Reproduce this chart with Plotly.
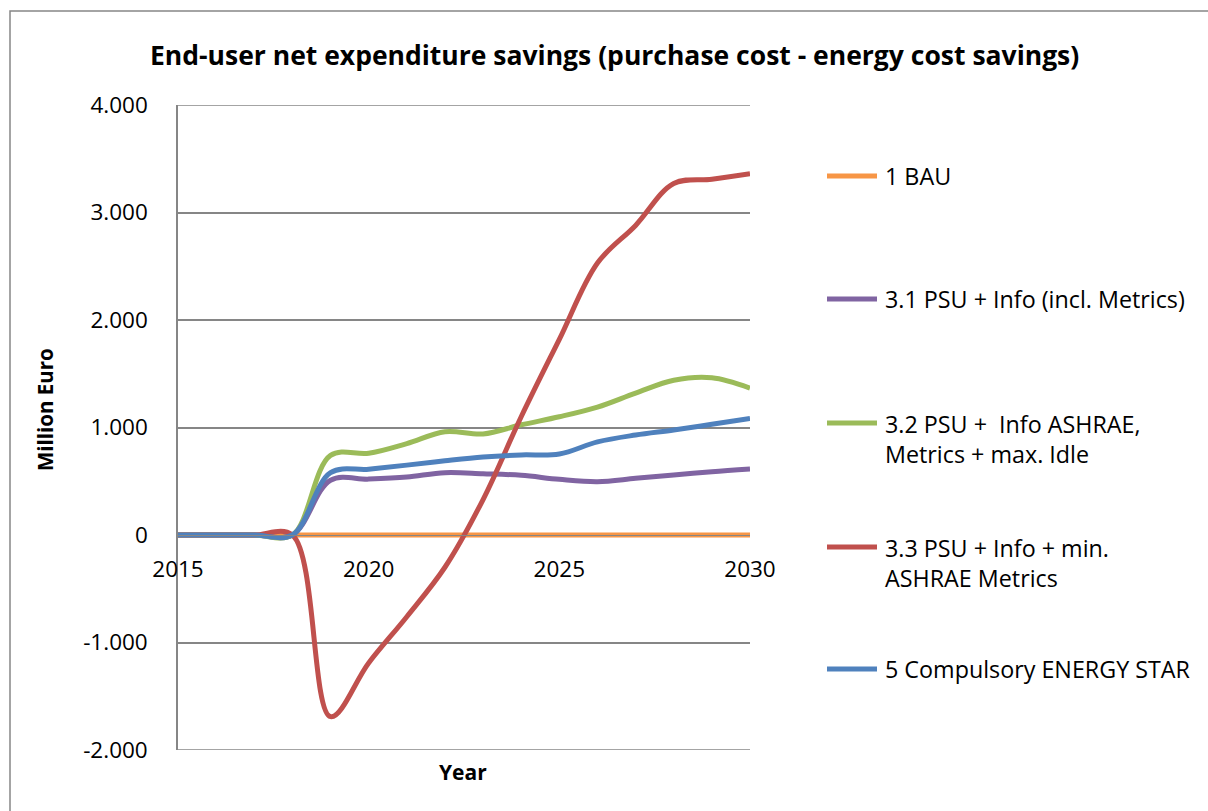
import plotly.graph_objects as go

# Yearly series (million euro)
years = [2015, 2016, 2017, 2018, 2019, 2020, 2021, 2022, 2023, 2024, 2025, 2026, 2027, 2028, 2029, 2030]
bau = [0, 0, 0, 0, 0, 0, 0, 0, 0, 0, 0, 0, 0, 0, 0, 0]
psu_info = [0, 0, 0, 0, 510, 520, 540, 580, 570, 555, 518, 496, 527, 558, 589, 614]
psu_ashrae_idle = [0, 0, 0, 0, 740, 760, 850, 960, 940, 1025, 1100, 1190, 1320, 1440, 1463, 1367]
psu_min_ashrae = [0, 0, 0, 0, -1690, -1190, -760, -300, 330, 1100, 1820, 2530, 2880, 3270, 3310, 3360]
energy_star = [0, 0, 0, 0, 580, 612, 650, 690, 725, 745, 753, 866, 930, 977, 1030, 1085]

series_names = [
    "1 BAU",
    "3.1 PSU + Info (incl. Metrics)",
    "3.2 PSU +  Info ASHRAE,<br>Metrics + max. Idle",
    "3.3 PSU + Info + min.<br>ASHRAE Metrics",
    "5 Compulsory ENERGY STAR",
]
series_values = [bau, psu_info, psu_ashrae_idle, psu_min_ashrae, energy_star]
series_colors = ["#F79646", "#8064A2", "#9BBB59", "#C0504D", "#4F81BD"]

y_ticks = [-2000, -1000, 0, 1000, 2000, 3000, 4000]
y_tick_text = ["-2.000", "-1.000", "0", "1.000", "2.000", "3.000", "4.000"]
x_ticks = [2015, 2020, 2025, 2030]
x_tick_text = ["2015", "2020", "2025", "2030"]

FONT = "Open Sans"
W, H = 1208, 811
ML, MR, MT, MB = 178, 458, 105, 61
PW, PH = W - ML - MR, H - MT - MB


def px(x):
    return (x - ML) / PW


def py(y):
    return (H - MB - y) / PH


fig = go.Figure()
for name, vals, col in zip(series_names, series_values, series_colors):
    fig.add_trace(go.Scatter(
        x=years, y=vals, mode="lines", name=name,
        line=dict(color=col, width=5, shape="spline", smoothing=1),
        showlegend=False,
    ))

grid = "#868686"
shapes = [
    # chart frame
    dict(type="rect", xref="paper", yref="paper",
         x0=px(10), x1=px(1230), y0=py(11), y1=py(830),
         line=dict(color=grid, width=1.5), layer="below"),
    # top and bottom gridlines at the range limits
    dict(type="line", xref="paper", yref="y", x0=0, x1=1,
         y0=y_ticks[0], y1=y_ticks[0], line=dict(color=grid, width=1.5), layer="below"),
    dict(type="line", xref="paper", yref="y", x0=0, x1=1,
         y0=y_ticks[-1], y1=y_ticks[-1], line=dict(color=grid, width=1.5), layer="below"),
]
annotations = []

# legend: sample line + label, evenly spaced rows
legend_rows = [176, 299, 423, 547, 669]
line_gap = 32
for name, col, yrow in zip(series_names, series_colors, legend_rows):
    shapes.append(dict(type="line", xref="paper", yref="paper",
                       x0=px(827), x1=px(877), y0=py(yrow), y1=py(yrow),
                       line=dict(color=col, width=5)))
    nlines = name.count("<br>") + 1
    annotations.append(dict(
        text=name, xref="paper", yref="paper",
        x=px(883), y=py(yrow + (nlines - 1) * line_gap / 2),
        xanchor="left", yanchor="middle", align="left", showarrow=False,
        font=dict(family=FONT, size=23.3, color="#000000"),
    ))

annotations += [
    dict(text="<b>End-user net expenditure savings (purchase cost - energy cost savings)</b>",
         xref="paper", yref="paper", x=px(614), y=py(55),
         xanchor="center", yanchor="middle", showarrow=False,
         font=dict(family=FONT, size=26.5, color="#000000")),
    dict(text="<b>Million Euro</b>", xref="paper", yref="paper",
         x=px(45), y=py(410), xanchor="center", yanchor="middle",
         textangle=-90, showarrow=False,
         font=dict(family=FONT, size=20.5, color="#000000")),
    dict(text="<b>Year</b>", xref="paper", yref="paper",
         x=px(463), y=py(772), xanchor="center", yanchor="middle",
         showarrow=False,
         font=dict(family=FONT, size=21, color="#000000")),
]

fig.update_layout(
    width=W, height=H, autosize=False,
    margin=dict(l=ML, r=MR, t=MT, b=MB),
    paper_bgcolor="white", plot_bgcolor="white",
    shapes=shapes, annotations=annotations,
    showlegend=False,
    xaxis=dict(
        range=[2015, 2030], anchor="free", position=2000 / 6000,
        tickvals=x_ticks, ticktext=x_tick_text, ticks="",
        ticklabelstandoff=14,
        showgrid=False, zeroline=False,
        showline=True, linecolor=grid, linewidth=1,
        tickfont=dict(family=FONT, size=22.5, color="#000000"),
    ),
    yaxis=dict(
        range=[-2000, 4000], tickvals=y_ticks, ticktext=y_tick_text,
        ticks="", ticklabelstandoff=24,
        showgrid=True, gridcolor=grid, gridwidth=1.5, zeroline=False,
        showline=True, linecolor=grid, linewidth=1.5,
        tickfont=dict(family=FONT, size=22.5, color="#000000"),
    ),
)

fig.write_html("out.html")
